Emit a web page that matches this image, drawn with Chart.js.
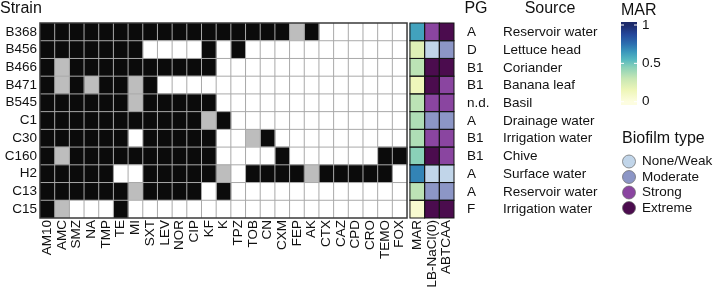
<!DOCTYPE html>
<html>
<head>
<meta charset="utf-8">
<script src="https://cdn.jsdelivr.net/npm/chart.js@4.4.0/dist/chart.umd.min.js"></script>
<style>
  html, body { margin: 0; padding: 0; background: #fff; }
  #wrap { width: 714px; height: 287px; position: relative; }
</style>
</head>
<body>
<div id="wrap"><canvas id="chart1"></canvas></div>
<script>
// data
const strains = ['B368', 'B456', 'B466', 'B471', 'B545', 'C1', 'C30', 'C160', 'H2', 'C13', 'C15'];
const antibiotics = ['AM10', 'AMC', 'SMZ', 'NA', 'TMP', 'TE', 'MI', 'SXT', 'LEV', 'NOR', 'CIP', 'KF', 'K',
                     'TPZ', 'TOB', 'CN', 'CXM', 'FEP', 'AK', 'CTX', 'CAZ', 'CPD', 'CRO', 'TEMO', 'FOX'];
const sideColumns = ['MAR', 'LB-NaCl(0)', 'ABTCAA'];
const pgGroups = ['A', 'D', 'B1', 'B1', 'n.d.', 'A', 'B1', 'B1', 'A', 'A', 'F'];
const sources = ['Reservoir water', 'Lettuce head', 'Coriander', 'Banana leaf', 'Basil', 'Drainage water',
                 'Irrigation water', 'Chive', 'Surface water', 'Reservoir water', 'Irrigation water'];

// 2 = resistant, 1 = intermediate, 0 = susceptible
const resistance = [
  [2,2,2,2,2,2,2,2,2,2,2,2,2,2,2,2,2,1,2,0,0,0,0,0,0], // B368
  [2,2,2,2,2,2,2,0,0,0,0,2,0,2,0,0,0,0,0,0,0,0,0,0,0], // B456
  [2,1,2,2,2,2,2,2,2,2,2,2,0,0,0,0,0,0,0,0,0,0,0,0,0], // B466
  [2,1,2,1,2,2,1,2,0,0,0,0,0,0,0,0,0,0,0,0,0,0,0,0,0], // B471
  [2,2,2,2,2,2,1,2,2,2,2,2,0,0,0,0,0,0,0,0,0,0,0,0,0], // B545
  [2,2,2,2,2,2,2,2,2,2,2,1,2,0,0,0,0,0,0,0,0,0,0,0,0], // C1
  [2,2,2,2,2,2,0,2,2,2,2,2,0,0,1,2,0,0,0,0,0,0,0,0,0], // C30
  [2,1,2,2,2,2,2,2,2,2,2,2,0,0,0,0,2,0,0,0,0,0,0,2,2], // C160
  [2,2,2,2,2,0,0,2,2,2,2,2,1,0,2,2,2,2,1,2,2,2,2,2,0], // H2
  [2,2,2,2,2,2,1,2,2,2,2,0,2,0,0,0,0,0,0,0,0,0,0,0,0], // C13
  [2,1,0,0,0,2,0,0,0,0,0,0,0,0,0,0,0,0,0,0,0,0,0,0,0]  // C15
];
const marIndex = [0.62, 0.21, 0.33, 0.14, 0.33, 0.36, 0.36, 0.45, 0.70, 0.33, 0.06];
const biofilmLB = ['Strong', 'None/Weak', 'Extreme', 'Extreme', 'Strong', 'Moderate', 'Strong', 'Extreme',
                   'None/Weak', 'Moderate', 'Extreme'];
const biofilmABTCAA = ['Extreme', 'Moderate', 'Extreme', 'Strong', 'Strong', 'Moderate', 'Strong', 'Strong',
                       'None/Weak', 'Moderate', 'Extreme'];
const biofilmTypes = ['None/Weak', 'Moderate', 'Strong', 'Extreme'];
const marTicks = [0, 0.5, 1];

// styling
const FONT = "'Liberation Sans', Arial, Helvetica, sans-serif";
const resColors = ['#ffffff', '#bdbdbd', '#0b0b0b'];
const biofilmColors = {'None/Weak': '#c1d5e9', 'Moderate': '#8c96c6', 'Strong': '#8a45a0', 'Extreme': '#4b0c4e'};
const marStops = [[0, '#fdfde0'], [0.15, '#eef6b8'], [0.3, '#c8e7b4'], [0.45, '#8ad1b8'], [0.55, '#55b8c0'],
                  [0.65, '#3a98bc'], [0.75, '#2c70b0'], [0.88, '#24469a'], [1, '#1c2a6a']];
const gapWidth = 0.2;

function hexToRgb(h) {
  return [parseInt(h.slice(1, 3), 16), parseInt(h.slice(3, 5), 16), parseInt(h.slice(5, 7), 16)];
}
function marColor(v) {
  for (let i = 1; i < marStops.length; i++) {
    if (v <= marStops[i][0]) {
      const [p0, c0] = marStops[i - 1], [p1, c1] = marStops[i];
      const t = (v - p0) / (p1 - p0);
      const a = hexToRgb(c0), b = hexToRgb(c1);
      return 'rgb(' + a.map((c, k) => Math.round(c + (b[k] - c) * t)).join(',') + ')';
    }
  }
  return marStops[marStops.length - 1][1];
}

const datasets = [];
antibiotics.forEach((ab, j) => {
  datasets.push({
    label: ab,
    data: strains.map(() => 1),
    backgroundColor: resistance.map(r => resColors[r[j]])
  });
});
datasets.push({ label: 'gap', data: strains.map(() => gapWidth), backgroundColor: 'rgba(0,0,0,0)' });
datasets.push({ label: 'MAR', data: strains.map(() => 1), backgroundColor: marIndex.map(marColor) });
datasets.push({ label: 'LB-NaCl(0)', data: strains.map(() => 1), backgroundColor: biofilmLB.map(b => biofilmColors[b]) });
datasets.push({ label: 'ABTCAA', data: strains.map(() => 1), backgroundColor: biofilmABTCAA.map(b => biofilmColors[b]) });

const colLabels = antibiotics.concat(sideColumns);
const colCenters = antibiotics.map((a, i) => i + 0.5)
  .concat(sideColumns.map((s, k) => antibiotics.length + gapWidth + k + 0.5));
const sideStart = antibiotics.length + gapWidth;

const decor = {
  id: 'decor',
  afterDatasetsDraw(chart) {
    const {ctx, chartArea: a, scales: {x}} = chart;
    const rowH = (a.bottom - a.top) / strains.length;
    const x0 = x.getPixelForValue(0), x1 = x.getPixelForValue(antibiotics.length);
    ctx.save();
    // thin grey lines between resistance cells
    ctx.strokeStyle = '#a9a9a9';
    ctx.lineWidth = 1;
    ctx.beginPath();
    for (let j = 1; j < antibiotics.length; j++) {
      const px = x.getPixelForValue(j);
      ctx.moveTo(px, a.top); ctx.lineTo(px, a.bottom);
    }
    for (let r = 1; r < strains.length; r++) {
      const py = a.top + r * rowH;
      ctx.moveTo(x0, py); ctx.lineTo(x1, py);
    }
    ctx.stroke();
    // frame
    ctx.strokeStyle = '#3a3a3a';
    ctx.lineWidth = 1.5;
    ctx.strokeRect(x0, a.top, x1 - x0, a.bottom - a.top);
    // dark borders around side cells
    ctx.strokeStyle = '#151515';
    ctx.lineWidth = 1;
    for (let k = 0; k < sideColumns.length; k++) {
      const xs = x.getPixelForValue(sideStart + k), xe = x.getPixelForValue(sideStart + k + 1);
      for (let r = 0; r < strains.length; r++) {
        ctx.strokeRect(xs, a.top + r * rowH, xe - xs, rowH);
      }
    }
    ctx.restore();
  },
  afterDraw(chart) {
    const {ctx, scales: {y}} = chart;
    ctx.save();
    ctx.fillStyle = '#111';
    ctx.textBaseline = 'middle';
    // titles
    ctx.font = '16px ' + FONT;
    ctx.textAlign = 'left';
    ctx.fillText('Strain', 0, 9);
    ctx.textAlign = 'center';
    ctx.fillText('PG', 476, 9);
    ctx.fillText('Source', 550, 9);
    // PG and source columns
    ctx.font = '13.5px ' + FONT;
    ctx.textAlign = 'left';
    strains.forEach((s, i) => {
      const py = y.getPixelForValue(i) + 0.5;
      ctx.fillText(pgGroups[i], 467, py);
      ctx.fillText(sources[i], 503, py);
    });

    // MAR colour bar
    ctx.font = '16px ' + FONT;
    ctx.fillText('MAR', 621, 11);
    const v0 = 101.7, v1 = 25;
    const grad = ctx.createLinearGradient(0, v0, 0, v1);
    marStops.forEach(([p, c]) => grad.addColorStop(p, c));
    ctx.fillStyle = grad;
    ctx.fillRect(621, 22, 16, 83);
    ctx.strokeStyle = '#fff';
    ctx.lineWidth = 1;
    ctx.font = '13.5px ' + FONT;
    marTicks.forEach(t => {
      const py = v0 + (v1 - v0) * t;
      ctx.beginPath();
      ctx.moveTo(621, py); ctx.lineTo(624, py);
      ctx.moveTo(634, py); ctx.lineTo(637, py);
      ctx.stroke();
      ctx.fillStyle = '#111';
      ctx.fillText(String(t), 642, py);
    });

    // biofilm legend
    ctx.font = '16px ' + FONT;
    ctx.fillText('Biofilm type', 622, 139);
    ctx.font = '13.5px ' + FONT;
    biofilmTypes.forEach((b, i) => {
      const py = 161.5 + i * 15.5;
      ctx.beginPath();
      ctx.arc(629, py, 6.5, 0, Math.PI * 2);
      ctx.fillStyle = biofilmColors[b];
      ctx.fill();
      ctx.strokeStyle = '#666';
      ctx.lineWidth = 0.7;
      ctx.stroke();
      ctx.fillStyle = '#111';
      ctx.fillText(b, 642, py);
    });
    ctx.restore();
  }
};

document.addEventListener('DOMContentLoaded', function() {
  Chart.defaults.font.family = FONT;
  const ctx1 = document.getElementById('chart1').getContext('2d');
  new Chart(ctx1, {
    type: 'bar',
    data: { labels: strains, datasets: datasets },
    options: {
      indexAxis: 'y',
      responsive: true,
      maintainAspectRatio: false,
      animation: false,
      layout: { padding: { left: 0, right: 260, top: 23, bottom: 0 } },
      datasets: { bar: { barPercentage: 1, categoryPercentage: 1, borderWidth: 0 } },
      plugins: { legend: { display: false }, tooltip: { enabled: false } },
      scales: {
        x: {
          type: 'linear',
          stacked: true,
          min: 0,
          max: antibiotics.length + gapWidth + sideColumns.length,
          grid: { display: false, drawTicks: false },
          border: { display: false },
          afterBuildTicks: axis => { axis.ticks = colCenters.map(v => ({ value: v })); },
          afterFit: axis => { axis.height = 69; },
          ticks: {
            autoSkip: false,
            minRotation: 90,
            maxRotation: 90,
            padding: 2,
            color: '#111',
            font: { size: 13.5 },
            callback: (v, i) => colLabels[i]
          }
        },
        y: {
          stacked: true,
          grid: { display: false, drawTicks: false },
          border: { display: false },
          afterFit: axis => { axis.width = 40; },
          ticks: { autoSkip: false, padding: 3, color: '#111', font: { size: 13.5 } }
        }
      }
    },
    plugins: [decor]
  });
});
</script>
</body>
</html>
